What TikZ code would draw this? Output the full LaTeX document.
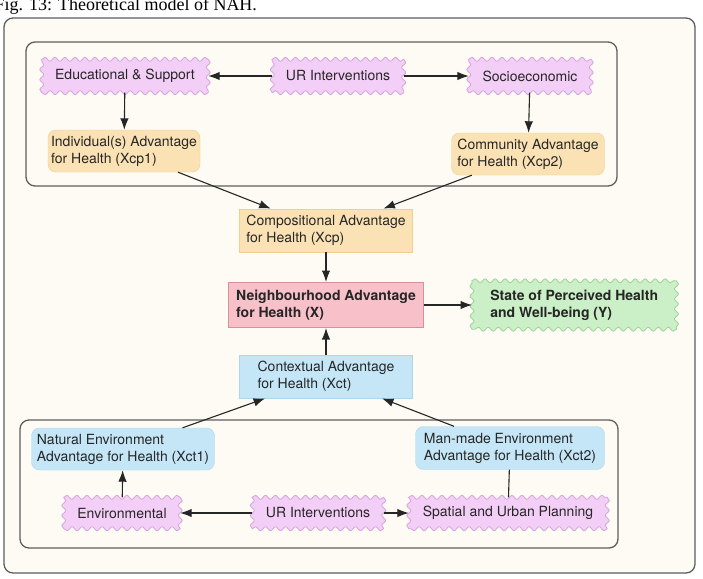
\documentclass[tikz,border=0pt]{standalone}
\usepackage{fontspec}
\setmainfont{TeX Gyre Heros}
\newfontfamily\capfont{Liberation Serif}
\usetikzlibrary{positioning,shapes,arrows,arrows.meta,backgrounds,decorations.pathmorphing}
\definecolor{paper}{HTML}{FDFBF3}
\definecolor{framegray}{HTML}{5E5E5E}
\definecolor{pinkfill}{HTML}{F3CEF6}
\definecolor{pinkline}{HTML}{D6A4DC}
\definecolor{orfill}{HTML}{FBE2B4}
\definecolor{orline}{HTML}{F0CF90}
\definecolor{bluefill}{HTML}{C5E6F7}
\definecolor{blueline}{HTML}{ADD6EC}
\definecolor{redfill}{HTML}{F8C0C9}
\definecolor{redline}{HTML}{D88E9B}
\definecolor{greenfill}{HTML}{CBEFC6}
\definecolor{greenline}{HTML}{9DD49A}
% wavy outline behind a node, one snake per side
\newcommand\wavyback[2]{%
  \filldraw[fill=#2fill, draw=#2line, line width=.8pt,
    decoration={snake, amplitude=2pt, segment length=10pt}]
    (#1.north west) decorate{-- (#1.north east)} decorate{-- (#1.south east)}
    decorate{-- (#1.south west)} decorate{-- (#1.north west)} -- cycle;}
\begin{document}
\begin{tikzpicture}[
      x=1pt, y=-1pt,
      node distance=30pt and 48pt,
      font=\fontsize{14}{17}\selectfont,
      text=black!85,
      >={Latex[length=11.5pt,width=8.5pt]},
      every edge/.append style={line width=1.1pt, draw=black!85},
      frame/.style={draw=framegray, line width=1.3pt, rounded corners=9pt},
      wavy/.style={minimum height=33pt, inner sep=3pt, align=center},
      box/.style={rectangle, minimum height=42pt, inner sep=3pt, align=left},
      compbox/.style={box, draw=orline, fill=orfill},
      ctxbox/.style={box, draw=blueline, fill=bluefill},
      subcomp/.style={compbox, rounded corners=8pt},
      subctx/.style={ctxbox, rounded corners=8pt}
    ]
    \useasboundingbox (0,0) rectangle (703,578);
    \node[anchor=base west, font=\capfont\fontsize{18}{20}\selectfont, text=black]
      (caption) at (-9,11) {Fig. 13: Theoretical model of NAH.};

    % compositional side
    \node[wavy, minimum width=166pt] (edu) at (125,76) {Educational \& Support};
    \node[wavy, minimum width=131pt] (urtop) at (338,76) {UR Interventions};
    \node[wavy, minimum width=122pt] (socio) at (530,76) {Socioeconomic};
    \node[subcomp, minimum width=152pt] (xcpone) at (124,151) {Individual(s) Advantage\\for Health (Xcp1)};
    \node[subcomp, minimum width=153pt] (xcptwo) at (528,154) {Community Advantage\\for Health (Xcp2)};

    % centre
    \node[box, draw=redline, fill=redfill, line width=1pt, minimum width=195pt,
      minimum height=45pt, font=\fontsize{14}{17}\selectfont\bfseries] (x) at (326,305)
      {Neighbourhood Advantage\\for Health (X)};
    \node[compbox, minimum width=173pt, minimum height=43pt, above=of x] (xcp)
      {Compositional Advantage\\for Health (Xcp)};
    \node[ctxbox, minimum width=173pt, minimum height=43pt, below=27pt of x] (xct)
      {Contextual Advantage\\for Health (Xct)};
    \node[wavy, minimum width=204pt, minimum height=48pt,
      font=\fontsize{14}{17}\selectfont\bfseries, align=left, right=of x] (y)
      {State of Perceived Health\\and Well-being (Y)};

    % contextual side
    \node[subctx, minimum width=183pt] (xctone) at (123,449) {Natural Environment\\Advantage for Health (Xct1)};
    \node[subctx, minimum width=189pt, minimum height=43pt] (xcttwo) at (510,448) {Man-made Environment\\Advantage for Health (Xct2)};
    \node[wavy, minimum width=116pt, minimum height=31pt] (env) at (122,513) {Environmental};
    \node[wavy, minimum width=131pt, minimum height=31pt] (urbot) at (318,513) {UR Interventions};
    \node[wavy, minimum width=198pt, minimum height=31pt] (spatial) at (508,513) {Spatial and Urban Planning};

    \begin{pgfonlayer}{background}
      \draw[frame, fill=paper] (4,18) rectangle (695,573);
      \draw[frame] (26,42) rectangle (617,186);
      \draw[frame] (20,420) rectangle (618,548);
      \foreach \n in {edu,urtop,socio,env,urbot,spatial}
        \wavyback{\n}{pink};
      \wavyback{y}{green};
    \end{pgfonlayer}

    \path (urtop) edge[->] (edu)
          (urtop) edge[->] (socio)
          (edu) edge[->] (xcpone)
          (socio) edge[->] (xcptwo)
          (xcpone) edge[->] (xcp)
          (xcptwo) edge[->] (xcp)
          (xcp) edge[->] (x)
          (xct) edge[->] (x)
          (x) edge[->] (y)
          (xctone) edge[->] (xct)
          (xcttwo) edge[->] (xct)
          (env) edge[->] (xctone)
          (urbot) edge[->] (env)
          (urbot) edge[->] (spatial)
          (xcttwo) edge (spatial);
\end{tikzpicture}
\end{document}
